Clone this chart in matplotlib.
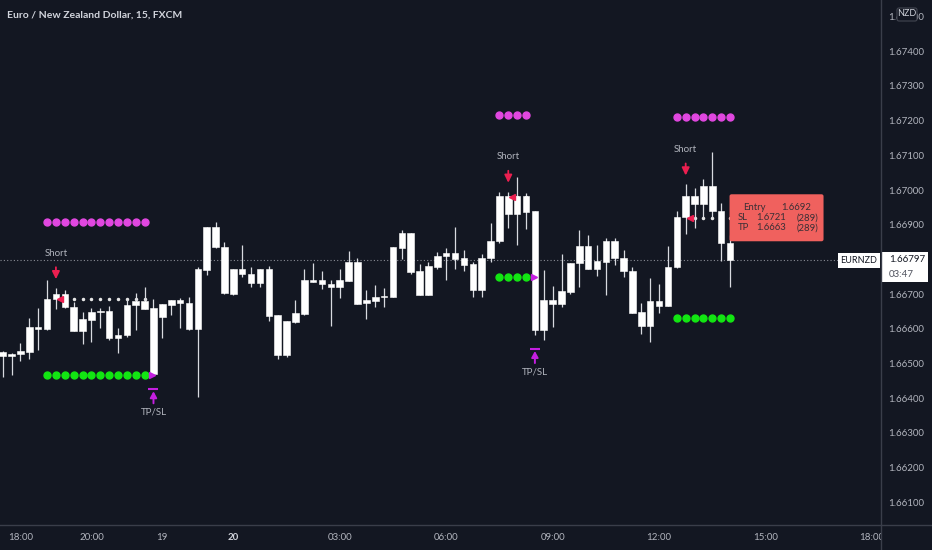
import matplotlib
matplotlib.use('Agg')
import matplotlib.pyplot as plt
from matplotlib.transforms import offset_copy, IdentityTransform
from matplotlib.patches import FancyBboxPatch, Rectangle
from matplotlib.lines import Line2D

plt.rcParams['font.family'] = ['Lato', 'DejaVu Sans']

# ---------------- data ----------------
high = [1.66537, 1.66529, 1.66558, 1.66632, 1.66661, 1.66741, 1.66717, 1.66712, 1.66678, 1.66649,
        1.66659, 1.66659, 1.66666, 1.66601, 1.66687, 1.66702, 1.66721, 1.66685, 1.66671, 1.66683,
        1.66688, 1.66691, 1.66779, 1.66894, 1.66909, 1.66851, 1.66771, 1.66841, 1.66779, 1.66773,
        1.66781, 1.66639, 1.66623, 1.66683, 1.66772, 1.66790, 1.66767, 1.66741, 1.66772, 1.66825,
        1.66803, 1.66712, 1.66726, 1.66717, 1.66835, 1.66885, 1.66876, 1.66787, 1.66793, 1.66820,
        1.66832, 1.66892, 1.66827, 1.66793, 1.66815, 1.66904, 1.66995, 1.66995, 1.67037, 1.66992,
        1.66940, 1.66769, 1.66723, 1.66815, 1.66789, 1.66885, 1.66870, 1.66841, 1.66863, 1.66863,
        1.66827, 1.66779, 1.66673, 1.66747, 1.66728, 1.66839, 1.66940, 1.67016, 1.67007, 1.67031,
        1.67110, 1.66962, 1.66870]
body_top = [1.66534, 1.66528, 1.66536, 1.66605, 1.66606, 1.66686, 1.66699, 1.66699, 1.66663, 1.66627,
            1.66648, 1.66652, 1.66652, 1.66583, 1.66669, 1.66680, 1.66681, 1.66659, 1.66671, 1.66682,
            1.66683, 1.66673, 1.66772, 1.66894, 1.66894, 1.66837, 1.66771, 1.66771, 1.66759, 1.66772,
            1.66772, 1.66639, 1.66623, 1.66646, 1.66740, 1.66741, 1.66740, 1.66728, 1.66740, 1.66792,
            1.66792, 1.66683, 1.66692, 1.66695, 1.66835, 1.66875, 1.66875, 1.66767, 1.66782, 1.66811,
            1.66819, 1.66819, 1.66803, 1.66786, 1.66805, 1.66854, 1.66983, 1.66983, 1.66983, 1.66983,
            1.66940, 1.66683, 1.66683, 1.66709, 1.66789, 1.66839, 1.66839, 1.66795, 1.66853, 1.66853,
            1.66805, 1.66767, 1.66648, 1.66680, 1.66680, 1.66779, 1.66923, 1.66984, 1.66984, 1.67012,
            1.67012, 1.66940, 1.66848]
body_bottom = [1.66522, 1.66522, 1.66527, 1.66534, 1.66599, 1.66599, 1.66685, 1.66662, 1.66594, 1.66594,
               1.66625, 1.66648, 1.66574, 1.66574, 1.66581, 1.66669, 1.66657, 1.66470, 1.66635, 1.66669,
               1.66673, 1.66599, 1.66599, 1.66769, 1.66835, 1.66702, 1.66700, 1.66758, 1.66731, 1.66731,
               1.66637, 1.66524, 1.66524, 1.66620, 1.66644, 1.66736, 1.66728, 1.66721, 1.66721, 1.66738,
               1.66672, 1.66673, 1.66681, 1.66692, 1.66692, 1.66832, 1.66765, 1.66698, 1.66698, 1.66779,
               1.66811, 1.66802, 1.66785, 1.66712, 1.66712, 1.66805, 1.66853, 1.66931, 1.66931, 1.66937,
               1.66597, 1.66597, 1.66671, 1.66671, 1.66707, 1.66789, 1.66772, 1.66772, 1.66793, 1.66803,
               1.66767, 1.66646, 1.66608, 1.66608, 1.66666, 1.66666, 1.66777, 1.66923, 1.66959, 1.66959,
               1.66940, 1.66848, 1.66797]
low = [1.66462, 1.66467, 1.66508, 1.66513, 1.66539, 1.66597, 1.66656, 1.66661, 1.66593, 1.66555,
       1.66563, 1.66601, 1.66568, 1.66529, 1.66577, 1.66597, 1.66656, 1.66466, 1.66573, 1.66640,
       1.66601, 1.66598, 1.66404, 1.66755, 1.66832, 1.66700, 1.66697, 1.66750, 1.66720, 1.66720,
       1.66623, 1.66512, 1.66518, 1.66616, 1.66640, 1.66735, 1.66714, 1.66608, 1.66690, 1.66737,
       1.66671, 1.66627, 1.66662, 1.66662, 1.66691, 1.66800, 1.66758, 1.66697, 1.66697, 1.66771,
       1.66741, 1.66772, 1.66767, 1.66692, 1.66692, 1.66793, 1.66848, 1.66890, 1.66841, 1.66887,
       1.66582, 1.66568, 1.66606, 1.66663, 1.66700, 1.66720, 1.66771, 1.66752, 1.66697, 1.66784,
       1.66748, 1.66645, 1.66585, 1.66563, 1.66645, 1.66665, 1.66776, 1.66872, 1.66890, 1.66923,
       1.66923, 1.66796, 1.66721]

short_bars = [6, 57, 77]
exit_bars = [17, 60, None]           # None = trade still open
entry_prices = [1.66686, 1.66981, 1.6692]
sl_prices = [1.66907, 1.67215, 1.6721]
tp_prices = [1.66467, 1.66750, 1.6663]

time_ticks = [2, 10, 18, 26, 38, 50, 62, 74, 86, 98]
time_labels = ['18:00', '20:00', '19', '20', '03:00', '06:00', '09:00', '12:00', '15:00', '18:00']
price_ticks = [1.661, 1.662, 1.663, 1.664, 1.665, 1.666, 1.667, 1.668, 1.669, 1.670,
               1.671, 1.672, 1.673, 1.674, 1.675]
last_price_label = '1.66797'
countdown = '03:47'
info_lines = [('Entry', '1.6692', ''), ('SL', '1.6721', '(289)'), ('TP', '1.6663', '(289)')]

# ---------------- style ----------------
BG = '#131722'
TXT = '#b2b5be'
GRID = '#3a3e4a'
PINK = '#e147e0'
GREEN = '#12e612'
RED = '#ec1f50'
MAG = '#c41fe0'

W, H = 932, 550
fig = plt.figure(figsize=(W / 100, H / 100), dpi=100, facecolor=BG)
ax = fig.add_axes([0, 25 / H, 881 / W, 525 / H], facecolor=BG)
ax.set_xlim(-0.304, 99.02)
ax.set_ylim(1.660346, 1.675476)
for s in ax.spines.values():
    s.set_visible(False)

n = len(high)
xs = list(range(n))

# candles
ax.vlines(xs, low, high, color='#d8dae0', lw=0.9, zorder=2)
ax.bar(xs, [t - b for t, b in zip(body_top, body_bottom)], bottom=body_bottom, width=0.74,
       color='#ffffff', edgecolor='#ffffff', linewidth=0.4, zorder=3)

# signals
for sb, eb, ep, sl, tp in zip(short_bars, exit_bars, entry_prices, sl_prices, tp_prices):
    end = eb if eb is not None else n
    rng = list(range(sb - 1, end))
    ax.plot(rng, [sl] * len(rng), 'o', ms=5, color=PINK, mec=PINK, zorder=4)
    ax.plot(rng, [tp] * len(rng), 'o', ms=5, color=GREEN, mec=GREEN, zorder=4)
    er = list(range(sb + 1, end))
    ax.plot(er, [ep] * len(er), 'o', ms=1.5, color='#e6e6e6', zorder=1)
    ax.plot([sb + 0.45], [ep], '<', ms=5, color=RED, mec=RED, zorder=5)
    hb = high[sb]
    ax.annotate('', xy=(sb, hb), xycoords=offset_copy(ax.transData, fig=fig, y=9, units='dots'),
                xytext=(0, 12), textcoords='offset pixels',
                arrowprops=dict(arrowstyle='-|>,head_length=0.45,head_width=0.22', color=RED,
                                lw=1.3, shrinkA=0, shrinkB=0), zorder=6)
    ax.annotate('Short', xy=(sb, hb), xytext=(0, 35), textcoords='offset pixels',
                ha='center', va='center', fontsize=7, color=TXT)
    if eb is not None:
        lb = low[eb]
        ax.plot([eb - 0.15], [tp], '>', ms=5, color=MAG, mec=MAG, zorder=5)
        ax.plot([eb], [lb], '_', ms=7, mew=1.5, color=MAG,
                transform=offset_copy(ax.transData, fig=fig, y=-14, units='dots'))
        ax.annotate('', xy=(eb, lb), xycoords=offset_copy(ax.transData, fig=fig, y=-16, units='dots'),
                    xytext=(0, -12), textcoords='offset pixels',
                    arrowprops=dict(arrowstyle='-|>,head_length=0.4,head_width=0.22', color=MAG,
                                    lw=1.4, shrinkA=0, shrinkB=0, mutation_scale=9), zorder=6)
        ax.annotate('TP/SL', xy=(eb, lb), xytext=(0, -37), textcoords='offset pixels',
                    ha='center', va='center', fontsize=7, color=TXT)

# last price dotted line
last = body_bottom[-1]
ax.axhline(last, xmin=0, xmax=838 / 881, color='#8a8d96', lw=0.8, ls=(0, (1, 2)), zorder=1)

# ticks
ax.set_xticks([])
ax.yaxis.tick_right()
ax.set_yticks(price_ticks)
ax.set_yticklabels(['%.5f' % p for p in price_ticks])
ax.tick_params(axis='y', length=0, pad=5, labelsize=7, labelcolor=TXT)

# time axis strip with clipping
axb = fig.add_axes([0, 0, 881 / W, 25 / H], facecolor=BG)
axb.set_xlim(ax.get_xlim())
axb.set_ylim(0, 1)
axb.axis('off')
for t, l in zip(time_ticks, time_labels):
    axb.text(t, 0.48, l, ha='center', va='center', fontsize=7, color=TXT if l != '20' else '#d1d4dc',
             fontweight='bold' if l == '20' else 'normal', clip_on=True)

# frame lines
fig.add_artist(Line2D([881 / W, 881 / W], [0, 1], transform=fig.transFigure, color=GRID, lw=1))
fig.add_artist(Line2D([0, 1], [25 / H, 25 / H], transform=fig.transFigure, color=GRID, lw=1))

# title
fig.text(7 / W, 1 - 15 / H, 'Euro / New Zealand Dollar, 15, FXCM', fontsize=7.5, fontweight='bold',
         color='#d1d4dc', ha='left', va='center')

# NZD box (covers the top price label, as in the original)
idt = IdentityTransform()
fig.patches.append(FancyBboxPatch((897, H - 21), 20, 13, boxstyle='round,pad=0,rounding_size=2',
                                  facecolor=BG, edgecolor='#434651', lw=0.8, transform=idt, zorder=10))
fig.text(907 / W, 1 - 14 / H, 'NZD', fontsize=6.5, color='#d1d4dc', ha='center', va='center', zorder=11)

# price label boxes
yd = ax.transData.transform((0, last))[1]
fig.patches.append(Rectangle((838, yd - 7.5), 42, 15, facecolor='white', edgecolor='none', transform=idt))
fig.text(859 / W, yd / H, 'EURNZD', fontsize=6.5, color='#131722', ha='center', va='center')
fig.patches.append(Rectangle((881, yd - 22), 47, 30, facecolor='white', edgecolor='none', transform=idt))
fig.text(889 / W, (yd + 0.5) / H, last_price_label, fontsize=7, color='#131722', ha='left', va='center')
fig.text(889 / W, (yd - 14) / H, countdown, fontsize=7, color='#50535e', ha='left', va='center')

# entry info box
bx, by = ax.transData.transform((n - 1, entry_prices[-1]))
bx = bx - 0.5
fig.patches.append(FancyBboxPatch((bx, by - 23.5), 94, 47, boxstyle='round,pad=0,rounding_size=2',
                                  facecolor='#f0615e', edgecolor='none', transform=idt))
col_x = [[14, 52, None], [8, 27, 67], [8, 27, 67]]
for i, (a, b, c) in enumerate(info_lines):
    yy = by + 10 - i * 10
    xs_ = col_x[i]
    fig.text((bx + xs_[0]) / W, yy / H, a, fontsize=6.8, color='#3a2f35', ha='left', va='center')
    fig.text((bx + xs_[1]) / W, yy / H, b, fontsize=6.8, color='#3a2f35', ha='left', va='center')
    if c:
        fig.text((bx + xs_[2]) / W, yy / H, c, fontsize=6.8, color='#3a2f35', ha='left', va='center')

fig.savefig('out.png', dpi=100, facecolor=BG)
